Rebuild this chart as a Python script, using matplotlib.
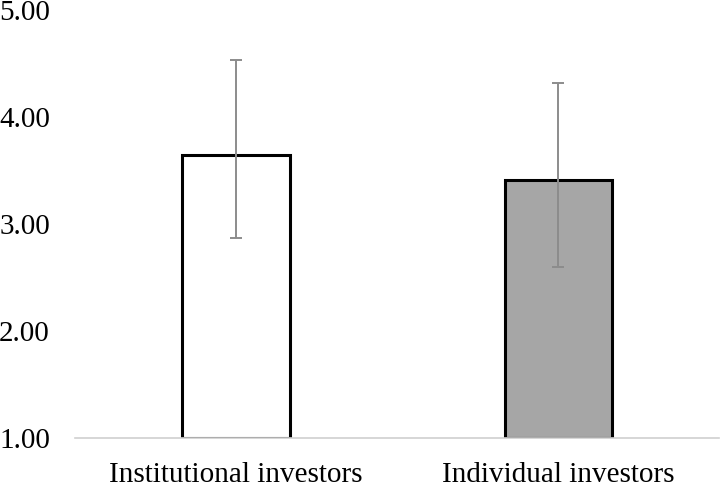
import matplotlib
matplotlib.use("Agg")
import matplotlib.pyplot as plt

groups = ["Institutional investors", "Individual investors"]
means = [3.65, 3.41]
err_low = [2.87, 2.60]
err_high = [4.53, 4.32]
fills = ["white", "#a6a6a6"]

plt.rcParams["font.family"] = ["Liberation Serif", "DejaVu Serif"]

fig = plt.figure(figsize=(7.2, 4.82), dpi=100)
ax = fig.add_axes([0.104, 0.091, 0.895, 0.888])

x = range(len(groups))
yerr = [[m - lo for m, lo in zip(means, err_low)],
        [hi - m for m, hi in zip(means, err_high)]]
base = 1.0
ax.bar(x, [m - base for m in means], bottom=base, width=0.333,
       color=fills, edgecolor="black", linewidth=2.2)
ax.errorbar(x, means, yerr=yerr, fmt="none", ecolor="#8c8c8c",
            elinewidth=1.4, capsize=4.5, capthick=1.4)

ax.set_xlim(-0.5, 1.5)
ax.set_ylim(1, 5)
ax.set_yticks([1, 2, 3, 4, 5])
ax.set_yticklabels(["%.2f" % v for v in [1, 2, 3, 4, 5]])
ax.set_xticks(list(x))
ax.set_xticklabels(groups)
ax.tick_params(axis="both", length=0, labelsize=21)
ax.tick_params(axis="y", pad=18)
ax.tick_params(axis="x", pad=17)

for side in ["top", "right", "left"]:
    ax.spines[side].set_visible(False)
ax.spines["bottom"].set_color("#d0d0d0")
ax.spines["bottom"].set_linewidth(1.2)

fig.savefig("out.png", dpi=100)
